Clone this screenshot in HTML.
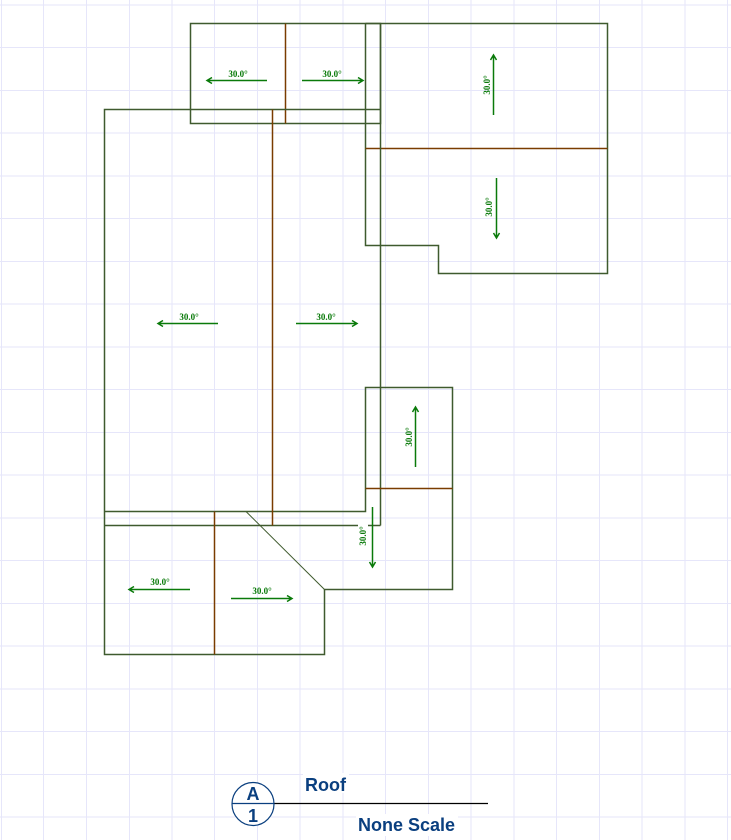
<!DOCTYPE html>
<html><head><meta charset="utf-8"><style>
html,body{margin:0;padding:0;background:#fff;}
svg{display:block;}
.g line{stroke:#e6e6fa;stroke-width:1;}
.o{stroke:#3f5a2e;stroke-width:1.5;fill:none;}
.b{stroke:#7a3c00;stroke-width:1.5;fill:none;}
.a{stroke:#0a7a0a;stroke-width:1.5;fill:none;}
.t{font-family:"Liberation Serif",serif;font-weight:bold;font-size:9px;fill:#0a7a0a;text-anchor:middle;}
.h{font-family:"Liberation Sans",sans-serif;font-weight:bold;font-size:18px;fill:#0a3f7f;}
</style></head><body>
<svg width="731" height="840" viewBox="0 0 731 840" xmlns="http://www.w3.org/2000/svg">
<g class="g">
<line x1="1.5" y1="0" x2="1.5" y2="840"/><line x1="43.5" y1="0" x2="43.5" y2="840"/><line x1="86.5" y1="0" x2="86.5" y2="840"/><line x1="129.5" y1="0" x2="129.5" y2="840"/><line x1="172" y1="0" x2="172" y2="840"/><line x1="214.5" y1="0" x2="214.5" y2="840"/><line x1="257.5" y1="0" x2="257.5" y2="840"/><line x1="300" y1="0" x2="300" y2="840"/><line x1="343" y1="0" x2="343" y2="840"/><line x1="385.5" y1="0" x2="385.5" y2="840"/><line x1="428.5" y1="0" x2="428.5" y2="840"/><line x1="471" y1="0" x2="471" y2="840"/><line x1="514" y1="0" x2="514" y2="840"/><line x1="556.5" y1="0" x2="556.5" y2="840"/><line x1="599.5" y1="0" x2="599.5" y2="840"/><line x1="642" y1="0" x2="642" y2="840"/><line x1="685" y1="0" x2="685" y2="840"/><line x1="727.5" y1="0" x2="727.5" y2="840"/>
<line x1="0" y1="5" x2="731" y2="5"/><line x1="0" y1="47.5" x2="731" y2="47.5"/><line x1="0" y1="90.5" x2="731" y2="90.5"/><line x1="0" y1="133" x2="731" y2="133"/><line x1="0" y1="176" x2="731" y2="176"/><line x1="0" y1="218.5" x2="731" y2="218.5"/><line x1="0" y1="261.5" x2="731" y2="261.5"/><line x1="0" y1="304" x2="731" y2="304"/><line x1="0" y1="347" x2="731" y2="347"/><line x1="0" y1="389.5" x2="731" y2="389.5"/><line x1="0" y1="432.5" x2="731" y2="432.5"/><line x1="0" y1="475" x2="731" y2="475"/><line x1="0" y1="518" x2="731" y2="518"/><line x1="0" y1="560.5" x2="731" y2="560.5"/><line x1="0" y1="603.5" x2="731" y2="603.5"/><line x1="0" y1="646" x2="731" y2="646"/><line x1="0" y1="689" x2="731" y2="689"/><line x1="0" y1="731.5" x2="731" y2="731.5"/><line x1="0" y1="774.5" x2="731" y2="774.5"/><line x1="0" y1="817" x2="731" y2="817"/>
</g>
<rect class="o" x="190.5" y="23.5" width="190" height="100"/>
<line class="b" x1="285.5" y1="23.5" x2="285.5" y2="123.5"/>
<polyline class="o" points="365.5,23.5 607.5,23.5 607.5,273.5 438.5,273.5 438.5,245.5 365.5,245.5 365.5,23.5"/>
<line class="b" x1="365.5" y1="148.5" x2="607.5" y2="148.5"/>
<polyline class="o" points="380.5,109.5 104.5,109.5 104.5,654.5 324.5,654.5 324.5,589.5 452.5,589.5 452.5,387.5 365.5,387.5 365.5,511.5 104.5,511.5"/>
<line class="o" x1="380.5" y1="23.5" x2="380.5" y2="525.5"/>
<line class="o" x1="104.5" y1="525.5" x2="380.5" y2="525.5"/>
<line class="b" x1="272.5" y1="109.5" x2="272.5" y2="525.5"/>
<line class="b" x1="214.5" y1="511.5" x2="214.5" y2="654.5"/>
<line class="b" x1="365.5" y1="488.5" x2="452.5" y2="488.5"/>
<line x1="246" y1="511.5" x2="324.5" y2="589.5" stroke="#3f5a2e" stroke-width="1"/>
<path class="a" d="M267,80.5H207M212,77.5L207,80.5L212,83.5"/><text class="t" x="238" y="77">30.0°</text>
<path class="a" d="M302,80.5H363M358,77.5L363,80.5L358,83.5"/><text class="t" x="332" y="77">30.0°</text>
<path class="a" d="M218,323.5H158M163,320.5L158,323.5L163,326.5"/><text class="t" x="189" y="320">30.0°</text>
<path class="a" d="M296,323.5H357M352,320.5L357,323.5L352,326.5"/><text class="t" x="326" y="320">30.0°</text>
<path class="a" d="M190,589.5H129M134,586.5L129,589.5L134,592.5"/><text class="t" x="160" y="585">30.0°</text>
<path class="a" d="M231,598.5H292M287,595.5L292,598.5L287,601.5"/><text class="t" x="262" y="594">30.0°</text>
<path class="a" d="M493.5,115V55M490.5,60L493.5,55L496.5,60"/><text class="t" transform="translate(490,85) rotate(-90)">30.0°</text>
<path class="a" d="M496.5,178V238M493.5,233L496.5,238L499.5,233"/><text class="t" transform="translate(492,207) rotate(-90)">30.0°</text>
<path class="a" d="M415.5,467V407M412.5,412L415.5,407L418.5,412"/><text class="t" transform="translate(412,437) rotate(-90)">30.0°</text>
<rect x="358" y="522" width="10" height="22" fill="#fff"/>
<path class="a" d="M372.5,507V567M369.5,562L372.5,567L375.5,562"/><text class="t" transform="translate(366,536) rotate(-90)">30.0°</text>
<line x1="274" y1="803.5" x2="488" y2="803.5" stroke="#000" stroke-width="1.2"/>
<ellipse cx="253" cy="804" rx="21" ry="21.5" fill="#fff" stroke="#0a3f7f" stroke-width="1.2"/>
<line x1="232" y1="803.5" x2="274" y2="803.5" stroke="#0a3f7f" stroke-width="1.2"/>
<text class="h" x="253" y="800" text-anchor="middle">A</text>
<text class="h" x="253" y="822" text-anchor="middle">1</text>
<rect x="303" y="773" width="46" height="20" fill="#fff"/>
<text class="h" x="305" y="791">Roof</text>
<rect x="356" y="814" width="102" height="22" fill="#fff"/>
<text class="h" x="358" y="831">None Scale</text>
</svg>
</body></html>
